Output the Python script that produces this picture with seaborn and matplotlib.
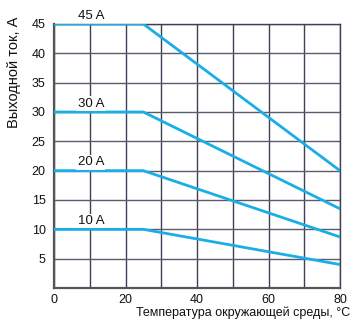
import matplotlib
matplotlib.use("Agg")
import matplotlib.pyplot as plt
import seaborn as sns
import pandas as pd

# rated output current curves vs ambient temperature
temps = [0, 25, 80]
curve_45 = [45, 45, 20]
curve_30 = [30, 30, 13.5]
curve_20 = [20, 20, 8.7]
curve_10 = [10, 10, 4]
series_names = ["45 A", "30 A", "20 A", "10 A"]

xticks = [0, 20, 40, 60, 80]
yticks = [5, 10, 15, 20, 25, 30, 35, 40, 45]

df = pd.DataFrame({
    "temp": temps * 4,
    "current": curve_45 + curve_30 + curve_20 + curve_10,
    "name": [n for n in series_names for _ in temps],
})

sns.set_style("white")
plt.rcParams["font.family"] = ["Liberation Sans", "DejaVu Sans"]

line_color = "#19aee6"
grid_color = "#3f4055"

fig = plt.figure(figsize=(3.51, 3.20), dpi=100)
ax = fig.add_axes([54 / 351, 1 - 288 / 320, 286 / 351, 264 / 320])

ax.set_xlim(0, 80)
ax.set_ylim(0, 45)
ax.set_xticks(xticks)
ax.set_xticks(range(10, 81, 10), minor=True)
ax.set_yticks(yticks)
ax.grid(True, which="both", axis="x", color=grid_color, linewidth=1.0)
ax.grid(True, which="major", axis="y", color="#5a5b6c", linewidth=1.0)
ax.set_axisbelow(True)

sns.lineplot(data=df, x="temp", y="current", hue="name",
             palette=[line_color] * 4, linewidth=2.0, legend=False, ax=ax,
             zorder=3)

for name, vals in zip(series_names, [curve_45, curve_30, curve_20, curve_10]):
    ax.annotate(name, xy=(10.3, vals[0]), xytext=(0, 6), textcoords="offset points",
                ha="center", va="center", fontsize=9.5, color="#111111",
                annotation_clip=False, zorder=4,
                bbox=dict(boxstyle="square,pad=0.1", fc="white", ec="none"))

for side in ["top", "right"]:
    ax.spines[side].set_color(grid_color)
    ax.spines[side].set_linewidth(1.0)
for side in ["left", "bottom"]:
    ax.spines[side].set_color("#555555")
    ax.spines[side].set_linewidth(1.6)

ax.tick_params(axis="both", which="both", length=0, labelsize=9, colors="#111111")
ax.tick_params(axis="y", pad=6)
ax.tick_params(axis="x", pad=4)
ax.set_xlabel("")
ax.set_ylabel("Выходной ток, А", fontsize=10.5, color="#111111")
ax.yaxis.set_label_coords(-33 / 286, 1 - 48 / 264)

fig.text(350 / 351, 1 - 313 / 320, "Температура окружающей среды, °С",
         ha="right", va="center", fontsize=9, color="#111111")

fig.savefig("out.png", dpi=100)
